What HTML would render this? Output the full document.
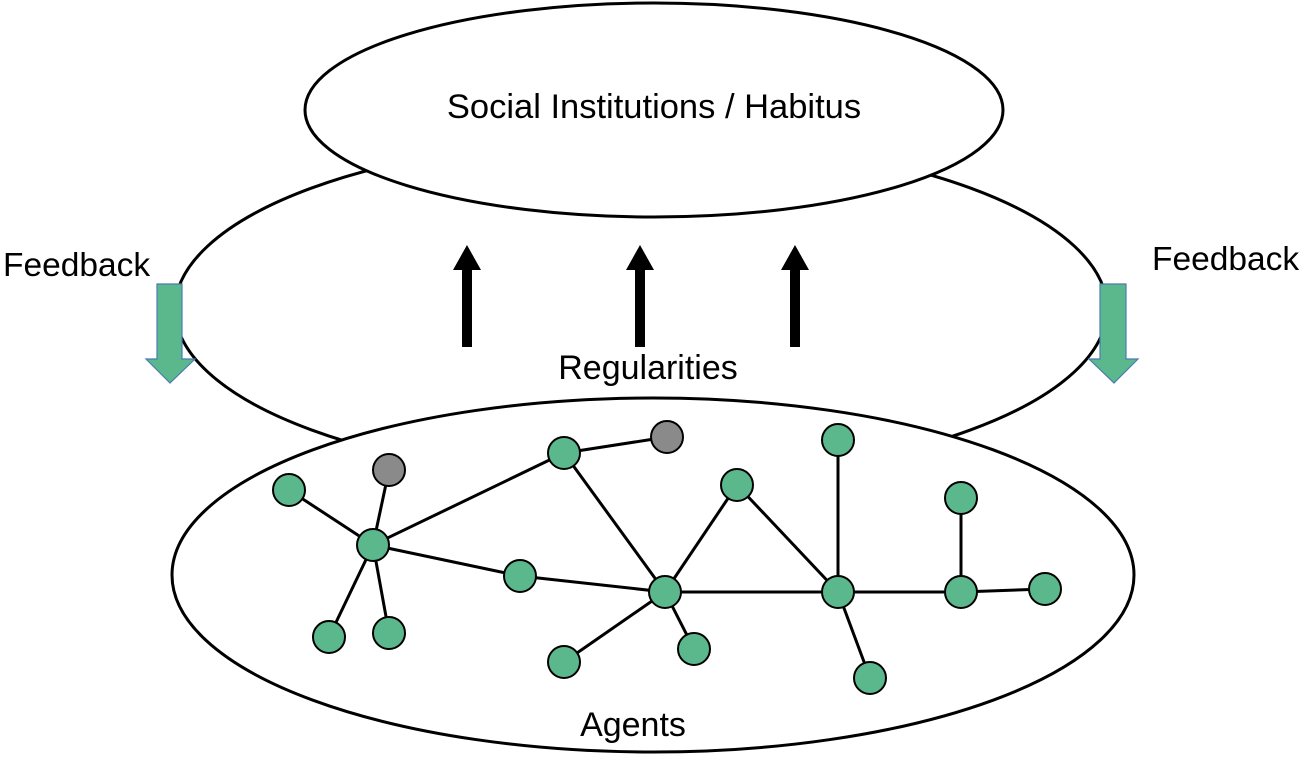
<!DOCTYPE html>
<html><head><meta charset="utf-8"><style>html,body{margin:0;padding:0;background:#fff}</style></head>
<body>
<svg width="1308" height="768" viewBox="0 0 1308 768" xmlns="http://www.w3.org/2000/svg" font-family="Liberation Sans, sans-serif">
<rect width="1308" height="768" fill="#fff"/>
<ellipse cx="641" cy="309" rx="466" ry="171" fill="#fff" stroke="#000" stroke-width="3"/>
<ellipse cx="653" cy="575" rx="481" ry="177" fill="#fff" stroke="#000" stroke-width="3"/>
<ellipse cx="654" cy="110" rx="349" ry="107" fill="#fff" stroke="#000" stroke-width="3"/>
<text x="654" y="118" font-size="34.5" text-anchor="middle">Social Institutions / Habitus</text>
<text x="648" y="379" font-size="34" text-anchor="middle">Regularities</text>
<text x="633" y="736" font-size="34" text-anchor="middle">Agents</text>
<text x="3" y="276" font-size="33.5">Feedback</text>
<text x="1152" y="270" font-size="33.5">Feedback</text>
<g fill="#000">
<polygon points="462,347 472,347 472,270 481,270 467,245 453,270 462,270"/>
<polygon points="635,347 645,347 645,270 654,270 640,245 626,270 635,270"/>
<polygon points="790,347 800,347 800,270 809,270 795,245 781,270 790,270"/>
</g>
<g fill="#5bb88c" stroke="#4a7bb0" stroke-width="1.2">
<polygon points="157,284 182,284 182,359 195,359 170,383 146,359 157,359"/>
<polygon points="1100,284 1126,284 1126,359 1138,359 1114,383 1089,359 1100,359"/>
</g>
<g stroke="#000" stroke-width="3">
<line x1="373" y1="545" x2="289" y2="490"/>
<line x1="373" y1="545" x2="389" y2="470"/>
<line x1="373" y1="545" x2="329" y2="637"/>
<line x1="373" y1="545" x2="389" y2="633"/>
<line x1="373" y1="545" x2="564" y2="453"/>
<line x1="373" y1="545" x2="520" y2="576"/>
<line x1="564" y1="453" x2="667" y2="437"/>
<line x1="564" y1="453" x2="665" y2="592"/>
<line x1="520" y1="576" x2="665" y2="592"/>
<line x1="665" y1="592" x2="564" y2="662"/>
<line x1="665" y1="592" x2="694" y2="649"/>
<line x1="665" y1="592" x2="737" y2="485"/>
<line x1="665" y1="592" x2="838" y2="592"/>
<line x1="737" y1="485" x2="838" y2="592"/>
<line x1="838" y1="592" x2="838" y2="440"/>
<line x1="838" y1="592" x2="870" y2="678"/>
<line x1="838" y1="592" x2="961" y2="592"/>
<line x1="961" y1="592" x2="961" y2="498"/>
<line x1="961" y1="592" x2="1045" y2="589"/>
</g>
<g fill="#5bb88c" stroke="#000" stroke-width="2">
<circle cx="373" cy="545" r="16"/>
<circle cx="289" cy="490" r="16"/>
<circle cx="329" cy="637" r="16"/>
<circle cx="389" cy="633" r="16"/>
<circle cx="564" cy="453" r="16"/>
<circle cx="520" cy="576" r="16"/>
<circle cx="665" cy="592" r="16"/>
<circle cx="564" cy="662" r="16"/>
<circle cx="694" cy="649" r="16"/>
<circle cx="737" cy="485" r="16"/>
<circle cx="838" cy="592" r="16"/>
<circle cx="838" cy="440" r="16"/>
<circle cx="870" cy="678" r="16"/>
<circle cx="961" cy="592" r="16"/>
<circle cx="961" cy="498" r="16"/>
<circle cx="1045" cy="589" r="16"/>
</g>
<g fill="#8a8a8a" stroke="#000" stroke-width="2">
<circle cx="389" cy="470" r="16"/>
<circle cx="667" cy="437" r="16"/>
</g>
</svg>
</body></html>
